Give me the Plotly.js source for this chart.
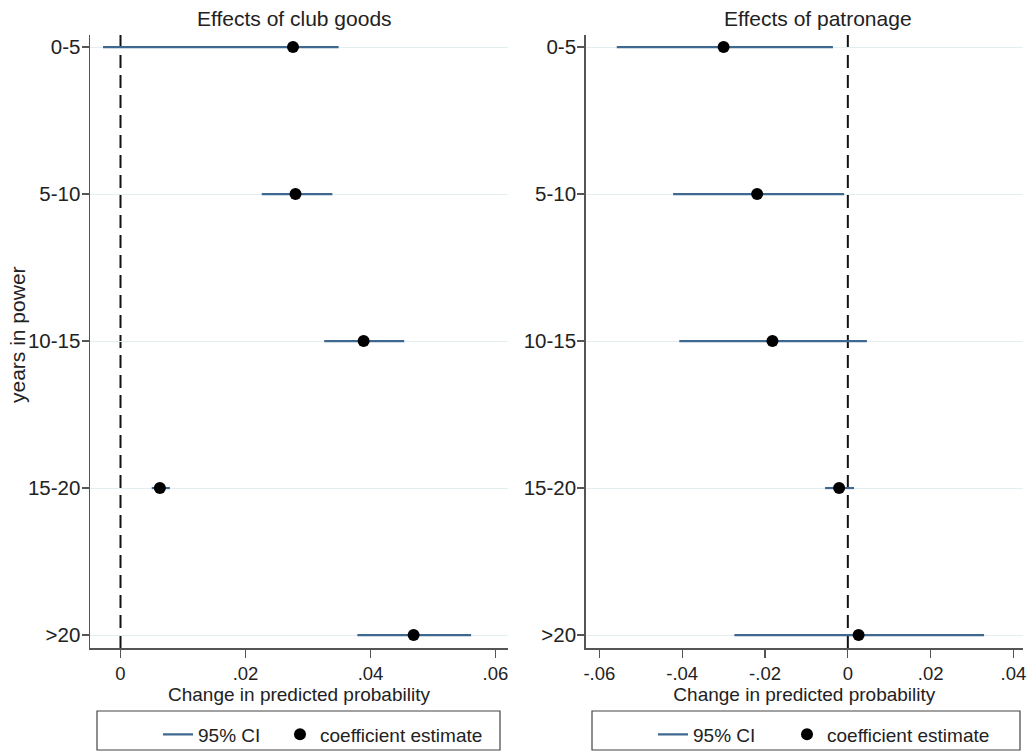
<!DOCTYPE html>
<html><head><meta charset="utf-8">
<script src="https://cdn.plot.ly/plotly-3.0.1.min.js"></script>
<style>html,body{margin:0;padding:0;background:#fff}#chart{width:1031px;height:753px}</style>
</head><body><div id="chart"></div>
<script>
const categories = ['0-5', '5-10', '10-15', '15-20', '>20'];

const clubEstimate = [0.0276, 0.0280, 0.0389, 0.0063, 0.0469];
const clubLower    = [-0.0028, 0.0226, 0.0326, 0.0050, 0.0379];
const clubUpper    = [0.0349, 0.0339, 0.0454, 0.0079, 0.0561];

const patronEstimate = [-0.0300, -0.0219, -0.0182, -0.0021, 0.0026];
const patronLower    = [-0.0558, -0.0422, -0.0407, -0.0055, -0.0274];
const patronUpper    = [-0.0036, -0.0009, 0.0046, 0.0015, 0.0329];

const clubTickVals = [0, 0.02, 0.04, 0.06];
const clubTickText = ['0', '.02', '.04', '.06'];
const patronTickVals = [-0.06, -0.04, -0.02, 0, 0.02, 0.04];
const patronTickText = ['-.06', '-.04', '-.02', '0', '.02', '.04'];

const panelTitles = ['Effects of club goods', 'Effects of patronage'];
const xTitle = 'Change in predicted probability';
const yTitle = 'years in power';
const ciName = '95% CI';
const estName = 'coefficient estimate';

const FONT = 'Liberation Sans, Arial, Helvetica, sans-serif';
const CI_COLOR = '#3f6891';

function ciSegments(lo, hi) {
  const x = [], y = [];
  lo.forEach((l, i) => { x.push(l, hi[i], null); y.push(categories[i], categories[i], null); });
  return {x, y};
}

const clubCI = ciSegments(clubLower, clubUpper);
const patronCI = ciSegments(patronLower, patronUpper);

const traces = [
  {type: 'scatter', mode: 'lines', x: clubCI.x, y: clubCI.y, xaxis: 'x', yaxis: 'y',
   name: ciName, line: {color: CI_COLOR, width: 2.2}, legend: 'legend', legendwidth: 77,
   connectgaps: false, hoverinfo: 'skip'},
  {type: 'scatter', mode: 'markers', x: clubEstimate, y: categories, xaxis: 'x', yaxis: 'y',
   name: estName, marker: {color: '#000', size: 12}, legend: 'legend', legendwidth: 175},
  {type: 'scatter', mode: 'lines', x: patronCI.x, y: patronCI.y, xaxis: 'x2', yaxis: 'y2',
   name: ciName, line: {color: CI_COLOR, width: 2.2}, legend: 'legend2', legendwidth: 89,
   connectgaps: false, hoverinfo: 'skip'},
  {type: 'scatter', mode: 'markers', x: patronEstimate, y: categories, xaxis: 'x2', yaxis: 'y2',
   name: estName, marker: {color: '#000', size: 12}, legend: 'legend2', legendwidth: 175}
];

const yBase = {
  type: 'category', categoryorder: 'array', categoryarray: categories,
  range: [4.088, -0.082], showline: true, linecolor: '#555', linewidth: 1.5,
  ticks: 'outside', ticklen: 7, tickcolor: '#555', tickwidth: 1.2,
  showgrid: true, gridcolor: '#e3eef0', gridwidth: 1, zeroline: false,
  tickfont: {family: FONT, size: 20.5, color: '#222'}, ticklabelstandoff: -3, fixedrange: true
};
const xBase = {
  showline: true, linecolor: '#555', linewidth: 1.5, ticks: 'outside', ticklen: 8,
  tickcolor: '#555', tickwidth: 1.2, showgrid: false, zeroline: false, tickmode: 'array',
  tickfont: {family: FONT, size: 18.5, color: '#222'}, fixedrange: true
};

const dashStyle = {color: '#111', width: 2, dash: '13px,7px'};
const legendFont = {family: FONT, size: 19, color: '#222'};

const layout = {
  width: 1031, height: 753,
  margin: {l: 90, r: 8, t: 35, b: 105, autoexpand: false},
  paper_bgcolor: '#fff', plot_bgcolor: '#fff',
  font: {family: FONT, color: '#222'},
  showlegend: true,
  xaxis: Object.assign({}, xBase, {domain: [0, 0.448], range: [-0.00488, 0.0620],
    tickvals: clubTickVals, ticktext: clubTickText,
    title: {text: xTitle, font: {family: FONT, size: 19, color: '#222'}, standoff: 5}}),
  yaxis: Object.assign({}, yBase, {domain: [0, 1], anchor: 'x'}),
  xaxis2: Object.assign({}, xBase, {domain: [0.5313, 1], anchor: 'y2', range: [-0.0633, 0.0423],
    tickvals: patronTickVals, ticktext: patronTickText,
    title: {text: xTitle, font: {family: FONT, size: 19, color: '#222'}, standoff: 5}}),
  yaxis2: Object.assign({}, yBase, {domain: [0, 1], anchor: 'x2'}),
  legend: {orientation: 'h', xref: 'container', yref: 'container',
    x: 158 / 1031, xanchor: 'left', y: (753 - 734.5) / 753, yanchor: 'middle',
    font: legendFont, bgcolor: 'rgba(0,0,0,0)', borderwidth: 0, traceorder: 'normal'},
  legend2: {orientation: 'h', xref: 'container', yref: 'container',
    x: 653 / 1031, xanchor: 'left', y: (753 - 734.5) / 753, yanchor: 'middle',
    font: legendFont, bgcolor: 'rgba(0,0,0,0)', borderwidth: 0, traceorder: 'normal'},
  shapes: [
    {type: 'line', xref: 'x', yref: 'y domain', x0: 0, x1: 0, y0: 0, y1: 1, line: dashStyle, layer: 'below'},
    {type: 'line', xref: 'x2', yref: 'y2 domain', x0: 0, x1: 0, y0: 0, y1: 1, line: dashStyle, layer: 'below'},
    {type: 'rect', xref: 'paper', yref: 'paper', x0: (97 - 90) / 933, x1: (500 - 90) / 933,
     y0: (648 - 750) / 613, y1: (648 - 711) / 613, line: {color: '#444', width: 1.2}},
    {type: 'rect', xref: 'paper', yref: 'paper', x0: (592 - 90) / 933, x1: (1020 - 90) / 933,
     y0: (648 - 750) / 613, y1: (648 - 711) / 613, line: {color: '#444', width: 1.2}}
  ],
  annotations: [
    {text: panelTitles[0], xref: 'paper', yref: 'paper', x: (294 - 90) / 933, y: (648 - 18) / 613,
     xanchor: 'center', yanchor: 'middle', showarrow: false, font: {family: FONT, size: 21, color: '#222'}},
    {text: panelTitles[1], xref: 'paper', yref: 'paper', x: (818 - 90) / 933, y: (648 - 18) / 613,
     xanchor: 'center', yanchor: 'middle', showarrow: false, font: {family: FONT, size: 21, color: '#222'}},
    {text: yTitle, xref: 'paper', yref: 'paper', x: (17 - 90) / 933, y: (648 - 335) / 613,
     xanchor: 'center', yanchor: 'middle', textangle: -90, showarrow: false,
     font: {family: FONT, size: 21, color: '#222'}}
  ]
};

Plotly.newPlot('chart', traces, layout, {displayModeBar: false, staticPlot: true});
</script>
</body></html>
